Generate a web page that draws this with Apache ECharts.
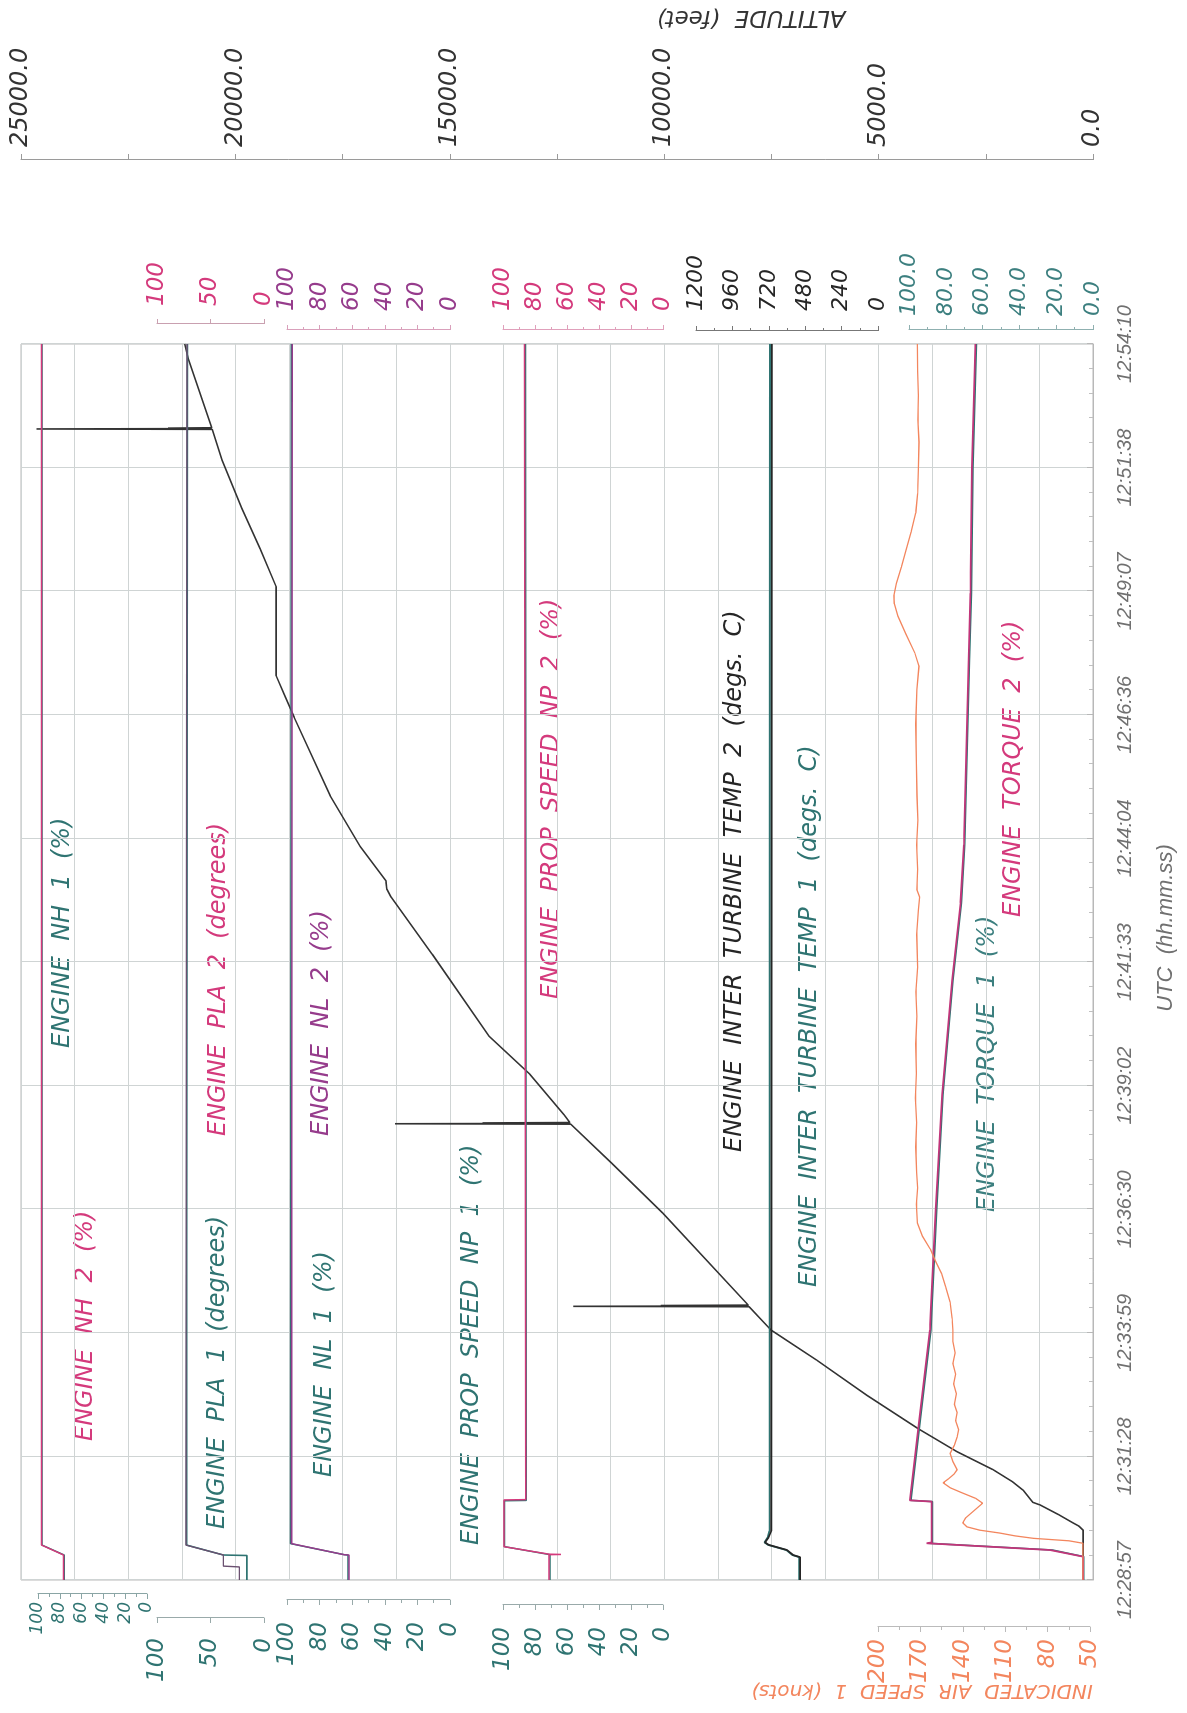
<!DOCTYPE html>
<html><head><meta charset="utf-8">
<script src="https://cdn.jsdelivr.net/npm/echarts@6.0.0/dist/echarts.min.js"></script>
<style>
html,body{margin:0;padding:0;background:#fff;overflow:hidden;width:1187px;height:1713px;}
#wrap{position:absolute;left:0;top:0;width:1713px;height:1187px;transform-origin:0 0;transform:translate(0,1713px) rotate(-90deg);background:#fff;}
</style></head>
<body><div id="wrap"></div>
<script>
// ---------- DATA (time in seconds from 12:28:57) ----------
const T_MAX = 1513;
const T_STEP = 151.3;
const timeLabels = ['12:28:57','12:31:28','12:33:59','12:36:30','12:39:02','12:41:33','12:44:04','12:46:36','12:49:07','12:51:38','12:54:10'];

const altitude = [[0,230],[61,230],[66,330],[70,470],[80,800],[92,1240],[95,1400],[110,1630],[120,1870],[135,2330],[157,3170],[186,4100],[226,5270],[269,6440],[306,7510],
  [334.5,8020],[335,12120],[335.5,8030],[336,10080],[336.5,8040],[449,10030],[510,11220],
  [558,12180],[558.5,16280],[559,12190],[559.5,14240],[560,12200],[569,12330],[619,13130],[666,14090],[766,15410],[836,16370],[846,16470],[856,16490],[898,17090],[960,17790],[1056,18630],[1084,18860],[1107,19050],[1216,19050],[1262,19420],[1312,19850],[1371,20310],
  [1408.5,20540],[1409,24640],[1409.5,20550],[1410,21570],[1410.5,20550],[1495,21100],[1513,21180]];

const nh1 = [[0,76],[30.6,76],[42.8,96.3],[1513,96.3]];
const nh2 = [[0,76.6],[30.6,76.6],[42.8,96.8],[1513,96.8]];
const pla1 = [[0,16],[30,16],[30.6,38],[42.8,72.5],[1513,71.5]];
const pla2 = [[0,23],[16,23],[17,38],[30.6,38],[42.8,73],[1513,72]];
const nl1 = [[0,62.6],[30.6,62.6],[31,65],[44.5,97.8],[1513,97.4]];
const nl2 = [[0,62],[30.6,62],[31,65],[44.5,97.2],[1513,96.8]];
const np1 = [[0,70.6],[31,70.6],[32.6,70.6],[40.8,99],[97,99],[97.4,85.4],[1513,86]];
const np2 = [[0,71.2],[31,71.2],[31.3,63.7],[31.6,71.2],[32.6,71.2],[40.8,99.4],[98,99.4],[98.4,85.8],[1513,86.6]];
const itt1 = [[0,520],[28,520],[30.6,565],[36.7,605],[43,725],[46,748],[52,728],[60,716],[1513,712]];
const itt2 = [[0,514],[28,514],[30.6,560],[36.7,600],[43,720],[46,745],[52,722],[60,704],[1513,700]];
const tq1 = [[0,5],[28.6,5],[36.7,22],[45,89.6],[46,87.2],[96,87.2],[97.5,99],[200,93.7],[306,88.1],[327,87.7],[453,85],[594,81.5],[734,76.1],[829,71.5],[900,69.7],[1126,67.1],[1208,66.1],[1361,65.3],[1513,63.4]];
const tq2 = [[0,5.4],[28.6,5.4],[36.7,23.4],[45,90.4],[46,87.7],[96,87.7],[97.5,99.5],[200,94.2],[306,88.6],[327,88.2],[453,85.5],[594,82],[734,76.6],[829,72],[900,70.2],[1126,67.6],[1208,66.6],[1361,65.8],[1513,63.9]];
const ias = [[0,55],[45,55],[48,65],[51,90],[54,103],[57.5,114],[61,128],[65,137],[70,140],[76,138],[85,132],[94,126],[100,131],[107,141],[113,149],[119,154],[124,150],[130,146],[135,144],[145,147],[155,149],[165,146],[175,144],[184,143],[195,145],[205,144],[215,146],[228,144.5],[240,146.5],[252,145],[265,147],[278,145.5],[292,147],[306,147],[320,147.6],[340,149],[359,152.2],[375,155],[390,159.2],[405,163],[421,168.6],[437,172.1],[460,172.8],[480,172],[499,172.6],[530,173.3],[560,172.6],[590,173.5],[620,172.8],[656,173.3],[690,172.5],[720,173.2],[750,172],[790,172.6],[820,171.5],[836,170.5],[845,172.5],[870,172],[900,172.6],[930,171.8],[960,172.4],[1000,172.8],[1048,173.3],[1090,172.5],[1119,171],[1135,174],[1158,180.3],[1180,186],[1195,188.5],[1205,188.7],[1220,187],[1240,183.5],[1260,180.3],[1283,176.5],[1306,173.3],[1330,172],[1360,171.5],[1393,171],[1420,171.8],[1450,171.4],[1480,172],[1513,172.2]];

// ---------- STYLE / LAYOUT ----------
const teal='#2f7472', mag='#d43a7c', purp='#963c8c', blk='#262626', orng='#f3865e', gridC='#cfd4d4';
const F='"DejaVu Sans", sans-serif';
const PL=133, PW=1236;
const panels = [ // top, height (landscape px)
  [21,1072],[38,109],[157,107],[287,163],[503,160],[696,182],[909,184],[878,212]
];

const grids = panels.map((p,i)=>({left:PL, width:PW, top:p[0], height:p[1], containLabel:false, outerBoundsMode:'none',
  show:i===0, borderColor:'#b8b8b8', borderWidth:1, backgroundColor:'transparent'}));

const xAxes = panels.map((p,i)=> i===0 ? {
  gridIndex:0, type:'value', min:0, max:T_MAX, interval:T_STEP,
  axisLine:{show:true, lineStyle:{color:'#b8b8b8'}},
  axisTick:{show:true, inside:true, length:6, lineStyle:{color:'#b8b8b8'}},
  minorTick:{show:true, splitNumber:5, length:4, lineStyle:{color:'#c0c0c0'}},
  splitLine:{show:true, lineStyle:{color:gridC, width:1}},
  axisLabel:{margin:22, color:'#707070', fontSize:20, fontStyle:'italic', fontFamily:'"Liberation Sans", Arial',
    showMinLabel:true, showMaxLabel:true, formatter:v=>timeLabels[Math.round(v/T_STEP)] || ''}
} : {gridIndex:i, type:'value', min:0, max:T_MAX, show:false});

function pAxis(g,pos,min,max,step,off,col,lineCol,minor,size,margin,dec){
  return {gridIndex:g, type:'value', position:pos, offset:off, min:min, max:max, interval:step,
    axisLine:{show:true, onZero:false, lineStyle:{color:lineCol}},
    axisTick:{show:true, length:5, lineStyle:{color:lineCol}},
    minorTick:{show:minor>0, splitNumber:minor||2, length:3, lineStyle:{color:lineCol}},
    splitLine:{show:false}, minorSplitLine:{show:false},
    axisLabel:{margin:margin, color:col, fontSize:size, fontStyle:'italic', fontFamily:F,
      showMinLabel:true, showMaxLabel:true,
      formatter:v=> dec ? v.toFixed(dec) : String(Math.round(v))}
  };
}

const yAxes = [
  {gridIndex:0, type:'value', min:0, max:20, interval:1, axisLine:{show:false}, axisTick:{show:false}, axisLabel:{show:false},
   splitLine:{show:true, lineStyle:{color:gridC, width:1}}},
  {gridIndex:0, type:'value', position:'right', offset:184, min:0, max:25000, interval:5000,
   axisLine:{show:true, lineStyle:{color:'#9a9a9a'}}, axisTick:{show:true, length:6, lineStyle:{color:'#9a9a9a'}},
   minorTick:{show:true, splitNumber:2, length:6, lineStyle:{color:'#9a9a9a'}}, splitLine:{show:false},
   axisLabel:{margin:13, color:'#333', fontSize:24, fontStyle:'italic', fontFamily:F, showMinLabel:true, showMaxLabel:true, formatter:v=>v.toFixed(1)}},
  pAxis(1,'left',0,100,20,14,teal,'#8aa5a5',2,17,8,0),        // NH bottom
  pAxis(2,'left',0,100,50,38,teal,'#9aa',0,23,20,0),           // PLA 1
  pAxis(2,'right',0,100,50,20,mag,'#c9a0b0',0,23,18,0),        // PLA 2
  pAxis(3,'left',0,100,20,20,teal,'#9aa',2,23,22,0),           // NL 1
  pAxis(3,'right',0,100,20,14,purp,'#d9a0bb',2,23,19,0),       // NL 2
  pAxis(4,'left',0,100,20,25,teal,'#9aa',2,23,22,0),           // NP 1
  pAxis(4,'right',0,100,20,14,mag,'#e0a0bb',2,23,19,0),        // NP 2
  pAxis(5,'right',0,1200,240,13,blk,'#777',2,22,20,0),         // ITT
  pAxis(6,'right',0,100,20,14,'#3c7f7f','#8fb0b0',2,22,14,1), // Torque
  pAxis(7,'left',50,200,30,47,orng,'#bbb',2,23,12,0)           // IAS
];

function ln(name,data,xi,yi,color,w){
  return {name, type:'line', data, xAxisIndex:xi, yAxisIndex:yi, showSymbol:false, symbol:'none',
    silent:true, animation:false, lineStyle:{color, width:w}, itemStyle:{color}};
}
const series = [
  ln('ALTITUDE',altitude,0,1,'#333',1.6),
  ln('NH 1',nh1,1,2,teal,1.5), ln('NH 2',nh2,1,2,mag,1.5),
  ln('PLA 1',pla1,2,3,teal,1.6), ln('PLA 2',pla2,2,4,'#6a5070',1.4),
  ln('NL 1',nl1,3,5,teal,1.5), ln('NL 2',nl2,3,6,purp,1.5),
  ln('NP 1',np1,4,7,teal,1.5), ln('NP 2',np2,4,8,mag,1.5),
  ln('ITT 1',itt1,5,9,teal,1.8), ln('ITT 2',itt2,5,9,blk,1.8),
  ln('TQ 1',tq1,6,10,teal,1.6), ln('TQ 2',tq2,6,10,'#c2357a',1.8),
  ln('IAS 1',ias,7,11,orng,1.3)
];

const LF = 'italic 24px "DejaVu Sans"';
const labelDefs = [
  ['ENGINE  NH  1  (%)',665,63,teal],
  ['ENGINE  NH  2  (%)',272,86,mag],
  ['ENGINE  PLA  1  (degrees)',184,218,teal],
  ['ENGINE  PLA  2  (degrees)',577,219,mag],
  ['ENGINE  NL  1  (%)',236,325,teal],
  ['ENGINE  NL  2  (%)',577,322,purp],
  ['ENGINE  PROP  SPEED  NP  1  (%)',168,472,teal],
  ['ENGINE  PROP  SPEED  NP  2  (%)',714,552,mag],
  ['ENGINE  INTER  TURBINE  TEMP  2  (degs.  C)',561,735,blk],
  ['ENGINE  INTER  TURBINE  TEMP  1  (degs.  C)',426,810,teal],
  ['ENGINE  TORQUE  1  (%)',501,988,'#3c7f7f'],
  ['ENGINE  TORQUE  2  (%)',796,1014,mag]
];
const graphic = labelDefs.map(d=>({type:'text', x:d[1], y:d[2], silent:true,
  style:{text:d[0], fill:d[3], font:LF, align:'left', verticalAlign:'middle'}}));
graphic.push({type:'text', x:785, y:1166, silent:true,
  style:{text:'UTC  (hh.mm.ss)', fill:'#707070', font:'italic 22px "Liberation Sans"', align:'center', verticalAlign:'middle'}});
graphic.push({type:'text', x:1696, y:751, rotation:Math.PI/2, silent:true,
  style:{text:'ALTITUDE  (feet)', fill:'#333', font:'italic 23px "DejaVu Sans"', align:'center', verticalAlign:'middle'}});
graphic.push({type:'text', x:23, y:922, rotation:Math.PI/2, silent:true,
  style:{text:'INDICATED  AIR  SPEED  1  (knots)', fill:orng, font:'italic 20px "DejaVu Sans"', align:'center', verticalAlign:'middle'}});

const chart = echarts.init(document.getElementById('wrap'), null, {renderer:'canvas', width:1713, height:1187});
chart.setOption({
  animation:false, backgroundColor:'#fff',
  grid:grids, xAxis:xAxes, yAxis:yAxes, series:series, graphic:graphic
});
</script>
</body></html>
